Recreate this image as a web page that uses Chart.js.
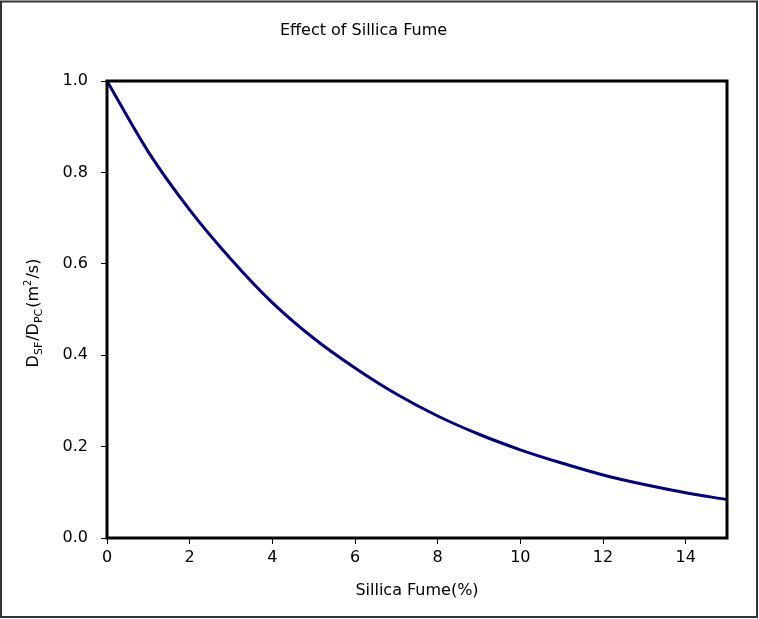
<!DOCTYPE html>
<html lang="en">

<head>
    <meta charset="UTF-8">
    <title>Effect of Sillica Fume</title>
    <script src="https://cdn.jsdelivr.net/npm/chart.js@4.4.0/dist/chart.umd.min.js"></script>
    <style>
        html, body { margin: 0; padding: 0; background: #fff; }
        #wrap { width: 759px; height: 619px; }
    </style>
</head>

<body>
    <div id="wrap"><canvas id="myChart" width="759" height="619"></canvas></div>

    <script>
        // silica fume content (%) and relative diffusion coefficient D_SF/D_PC
        const fumePct = [0, 1, 2, 3, 4, 5, 6, 7, 8, 9, 10, 11, 12, 13, 14, 15];
        const diffRatio = [1.0, 0.845, 0.718, 0.61, 0.515, 0.437, 0.372, 0.315, 0.267, 0.227, 0.193, 0.164, 0.138, 0.117, 0.099, 0.084];
        const xTicks = [0, 2, 4, 6, 8, 10, 12, 14];
        const yTicks = [0.0, 0.2, 0.4, 0.6, 0.8, 1.0];

        const FONT = "'DejaVu Sans', Verdana, sans-serif";

        // y axis label with sub/superscripts, drawn by hand
        const yLabelParts = [
            { t: "D", f: 16, dy: 0 },
            { t: "SF", f: 11, dy: 4 },
            { t: "/D", f: 16, dy: 0 },
            { t: "PC", f: 11, dy: 4 },
            { t: "(m", f: 16, dy: 0 },
            { t: "2", f: 10, dy: -7 },
            { t: "/s)", f: 16, dy: 0 }
        ];

        const framePlugin = {
            id: 'frame',
            afterDraw(chart) {
                const ctx = chart.ctx;
                const a = chart.chartArea;
                ctx.save();
                // plot frame
                ctx.strokeStyle = '#000';
                ctx.lineWidth = 3;
                ctx.strokeRect(a.left, a.top, a.right - a.left, a.bottom - a.top);
                // outer border
                ctx.strokeStyle = '#333';
                ctx.lineWidth = 2;
                ctx.strokeRect(1, 1.5, 756, 615.5);
                // y label
                ctx.fillStyle = '#000';
                ctx.textBaseline = 'alphabetic';
                ctx.translate(38, 313);
                ctx.rotate(-Math.PI / 2);
                let total = 0;
                yLabelParts.forEach(p => {
                    ctx.font = p.f + 'px ' + FONT;
                    total += ctx.measureText(p.t).width + (p.f < 16 ? 1 : 0);
                });
                let x = -total / 2;
                yLabelParts.forEach(p => {
                    ctx.font = p.f + 'px ' + FONT;
                    ctx.fillText(p.t, x, p.dy);
                    x += ctx.measureText(p.t).width + (p.f < 16 ? 1 : 0);
                });
                ctx.restore();
            }
        };

        const points = fumePct.map((v, i) => ({ x: v, y: diffRatio[i] }));

        const config = {
            type: 'line',
            data: {
                datasets: [{
                    data: points,
                    borderColor: '#000080',
                    backgroundColor: '#000080',
                    borderWidth: 3,
                    pointRadius: 0,
                    cubicInterpolationMode: 'monotone',
                    clip: false
                }]
            },
            options: {
                responsive: false,
                animation: false,
                layout: { padding: { left: 0, right: 32, top: 0, bottom: 0 } },
                plugins: {
                    legend: { display: false },
                    tooltip: { enabled: false },
                    title: {
                        display: true,
                        text: 'Effect of Sillica Fume',
                        color: '#000',
                        font: { family: FONT, size: 16, weight: 'normal' },
                        padding: { top: 21, bottom: 40.8 }
                    }
                },
                scales: {
                    x: {
                        type: 'linear',
                        min: 0,
                        max: 15,
                        afterFit(s) { s.height = 81; },
                        afterBuildTicks(s) { s.ticks = xTicks.map(v => ({ value: v })); },
                        ticks: {
                            color: '#000',
                            padding: 4,
                            font: { family: FONT, size: 16 },
                            callback: v => String(v)
                        },
                        grid: { drawOnChartArea: false, drawTicks: true, tickLength: 6, color: '#000', lineWidth: 1 },
                        border: { display: false },
                        title: {
                            display: true,
                            text: 'Sillica Fume(%)',
                            color: '#000',
                            font: { family: FONT, size: 16 },
                            padding: { top: 0, bottom: 19 }
                        }
                    },
                    y: {
                        min: 0,
                        max: 1,
                        afterFit(s) { s.width = 107; },
                        afterBuildTicks(s) { s.ticks = yTicks.map(v => ({ value: v })); },
                        ticks: {
                            color: '#000',
                            padding: 13,
                            font: { family: FONT, size: 16 },
                            callback: v => v.toFixed(1)
                        },
                        grid: { drawOnChartArea: false, drawTicks: true, tickLength: 6, color: '#000', lineWidth: 1 },
                        border: { display: false }
                    }
                }
            },
            plugins: [framePlugin]
        };

        window.myChart = new Chart(document.getElementById('myChart').getContext('2d'), config);
    </script>
</body>

</html>
